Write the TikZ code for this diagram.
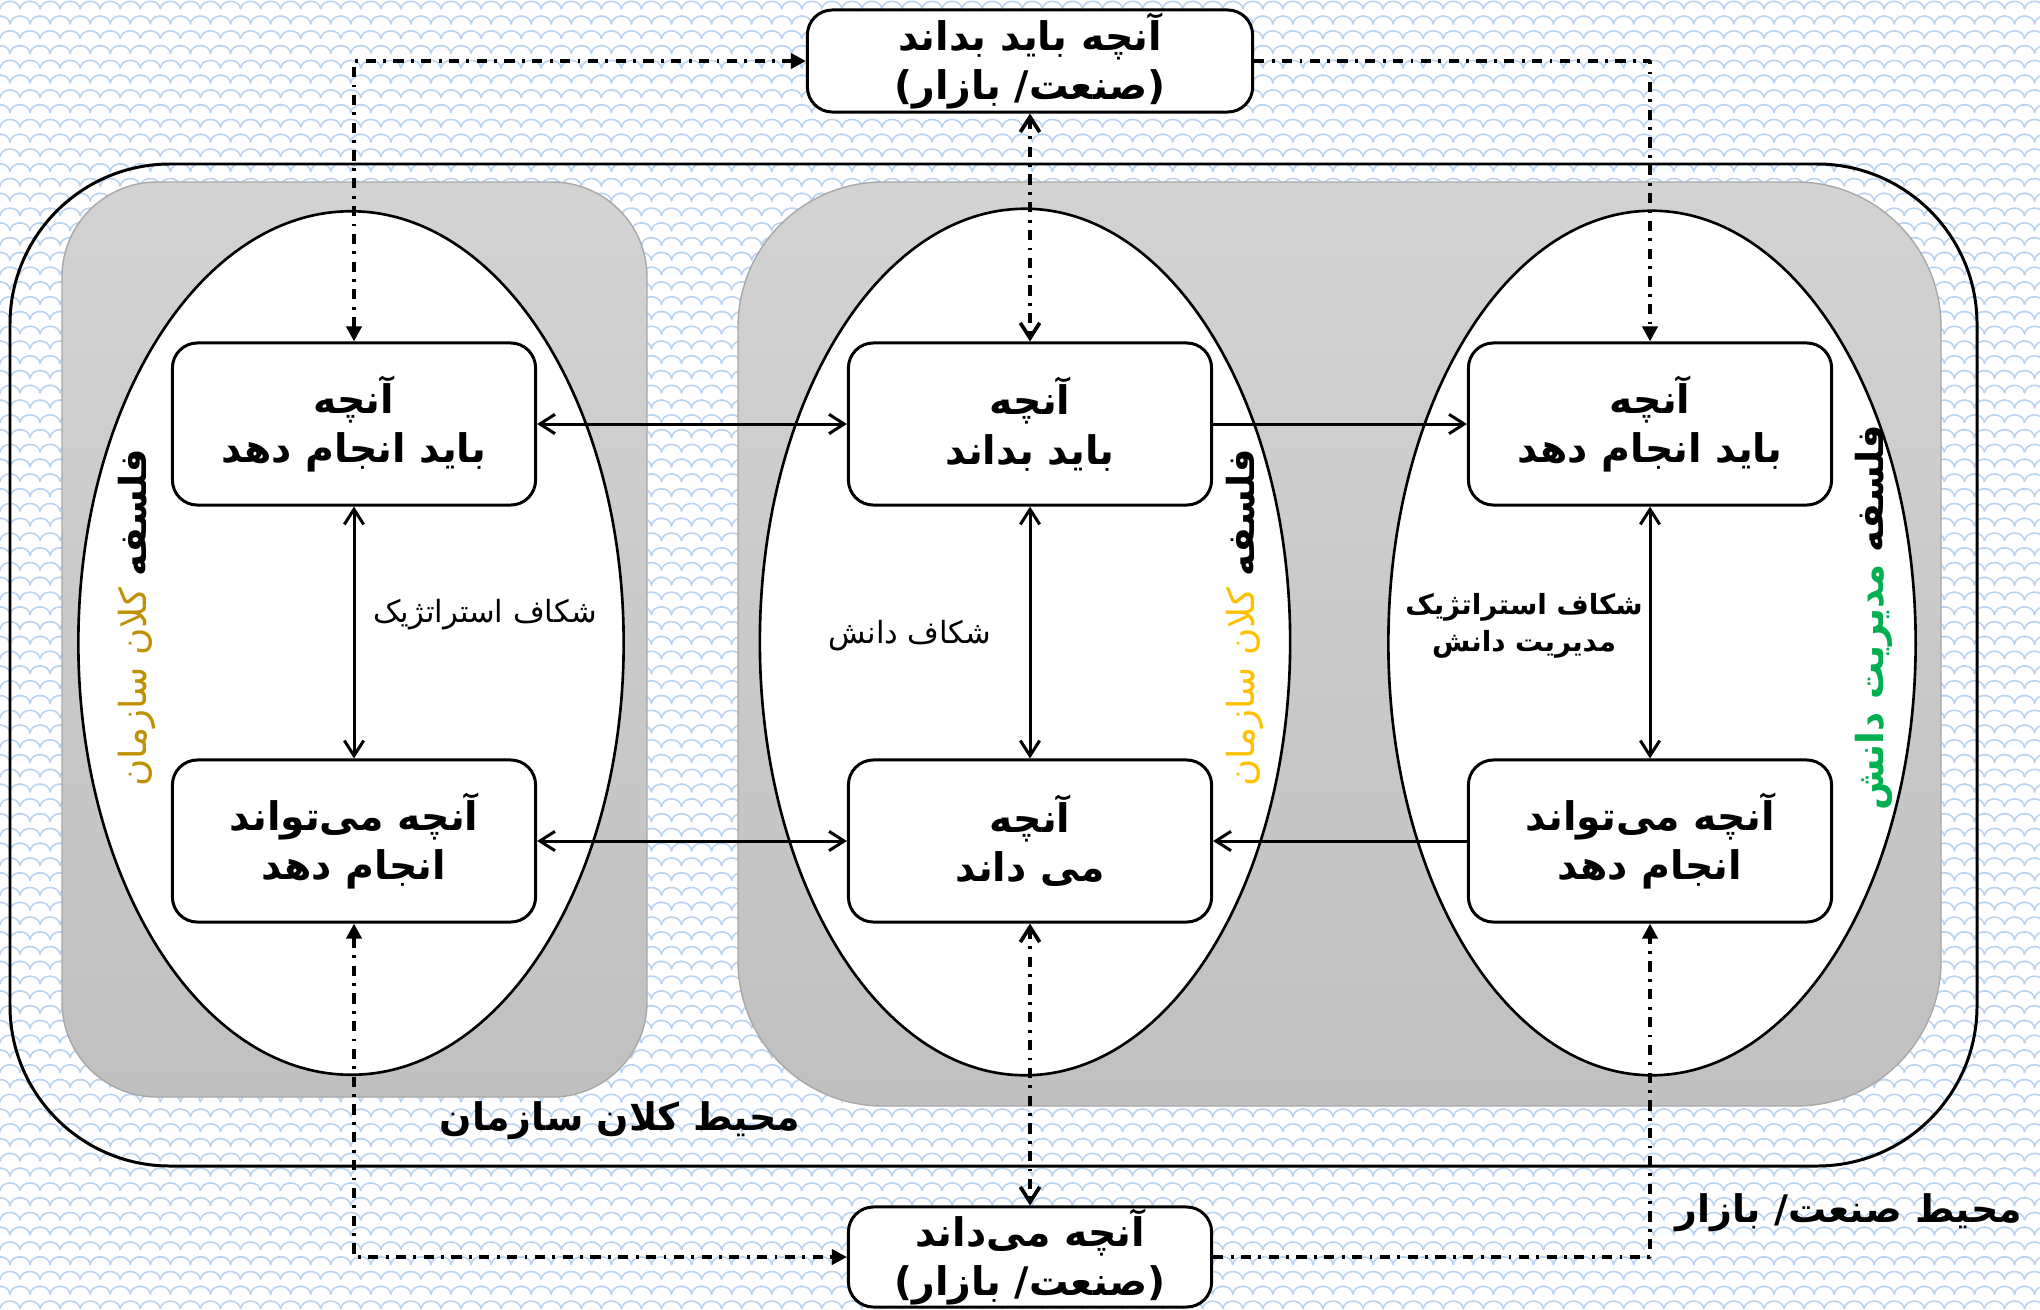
\documentclass[tikz,border=0pt]{standalone}
\usepackage{fontspec}
\usepackage{tikz}
\usetikzlibrary{arrows.meta,shapes.geometric,patterns}
\usepackage{xcolor}
\newfontfamily\farsi[Script=Arabic]{DejaVu Sans}
\TeXXeTstate=1
\newcommand{\fatxt}[1]{\beginR#1\endR}
\definecolor{scalecol}{RGB}{186,212,240}
\definecolor{graytop}{RGB}{211,211,211}
\definecolor{graybot}{RGB}{192,192,192}
\definecolor{grayline}{RGB}{168,168,168}
\definecolor{goldorg}{RGB}{191,144,0}
\definecolor{yelorg}{RGB}{255,192,0}
\definecolor{greenkm}{RGB}{0,176,80}
\pgfdeclarepatternformonly{fishscale}{\pgfqpoint{-0.5pt}{-0.5pt}}{\pgfqpoint{6.2pt}{8.9pt}}{\pgfqpoint{5.7pt}{8.4pt}}{%
  \pgfsetlinewidth{0.45pt}%
  \pgfpathmoveto{\pgfqpoint{0pt}{0pt}}%
  \pgfpathcurveto{\pgfqpoint{0.3pt}{3pt}}{\pgfqpoint{5.4pt}{3pt}}{\pgfqpoint{5.7pt}{0pt}}%
  \pgfpathmoveto{\pgfqpoint{-2.85pt}{4.2pt}}%
  \pgfpathcurveto{\pgfqpoint{-2.55pt}{7.2pt}}{\pgfqpoint{2.55pt}{7.2pt}}{\pgfqpoint{2.85pt}{4.2pt}}%
  \pgfpathcurveto{\pgfqpoint{3.15pt}{7.2pt}}{\pgfqpoint{8.25pt}{7.2pt}}{\pgfqpoint{8.55pt}{4.2pt}}%
  \pgfusepath{stroke}}

\begin{document}
\begin{tikzpicture}[x=0.01cm,y=-0.01cm,line join=round,
  >={Straight Barb[length=4.3pt,width=5.5pt]},
  box/.style={draw,fill=white,rounded corners=0.25cm,line width=0.85pt,
    minimum width=3.63cm,minimum height=1.62cm,inner sep=0pt,align=center,
    font=\farsi\bfseries\fontsize{11.2}{14}\selectfont},
  elp/.style={ellipse,draw,fill=white,line width=0.75pt,inner sep=0pt},
  graybox/.style={top color=graytop,bottom color=graybot,draw=grayline,line width=0.4pt},
  philo/.style={rotate=90,font=\farsi\fontsize{10.6}{13}\selectfont},
  gap/.style={align=center,font=\farsi\fontsize{8.7}{11.5}\selectfont},
  envlbl/.style={font=\farsi\bfseries\fontsize{10.8}{13}\selectfont},
  solidarr/.style={line width=0.85pt},
  dd/.style={line width=1.05pt,dash pattern=on 2.9pt off 2.1pt on 0.8pt off 2.1pt},
  ddfill/.style={dd,>={Triangle[length=4.3pt,width=4.3pt]}}]
% background
\fill[white] (0,0) rectangle (2040,1309);
\fill[pattern=fishscale,pattern color=scalecol] (0,0) rectangle (2040,1309);
\useasboundingbox (0,0) rectangle (2040,1309);
% environments
\draw[line width=0.85pt,rounded corners=1.6cm] (10,164) rectangle (1977,1166);
\shadedraw[graybox,rounded corners=0.95cm] (62,182) rectangle (647,1097);
\shadedraw[graybox,rounded corners=1.45cm] (738,182) rectangle (1941,1106);
% philosophies
\node[elp,minimum width=5.45cm,minimum height=8.63cm] (elpL) at (351,643) {};
\node[elp,minimum width=5.3cm,minimum height=8.66cm] (elpM) at (1025,642) {};
\node[elp,minimum width=5.27cm,minimum height=8.64cm] (elpR) at (1652,643) {};
\node[philo] (philL) at (137,618) {\textcolor{goldorg}{\fatxt{کلان سازمان}}\ \textbf{\fatxt{فلسفه}}};
\node[philo] (philM) at (1245,618) {\textcolor{yelorg}{\fatxt{کلان سازمان}}\ \textbf{\fatxt{فلسفه}}};
\node[philo] (philR) at (1874,618) {\textcolor{greenkm}{\bfseries\fatxt{مدیریت دانش}}\ \textbf{\fatxt{فلسفه}}};
% boxes
\node[box] (ltop) at (354,424) {\fatxt{آنچه}\\\fatxt{باید انجام دهد}};
\node[box] (mtop) at (1030,424) {\fatxt{آنچه}\\\fatxt{باید بداند}};
\node[box] (rtop) at (1650,424) {\fatxt{آنچه}\\\fatxt{باید انجام دهد}};
\node[box] (lbot) at (354,841) {\fatxt{آنچه می‌تواند}\\\fatxt{انجام دهد}};
\node[box] (mbot) at (1030,841) {\fatxt{آنچه}\\\fatxt{می داند}};
\node[box] (rbot) at (1650,841) {\fatxt{آنچه می‌تواند}\\\fatxt{انجام دهد}};
\node[box,minimum width=4.45cm,minimum height=1.02cm] (mustknow) at (1030,61) {\fatxt{آنچه باید بداند}\\)\fatxt{صنعت/ بازار}(};
\node[box,minimum height=1.0cm] (knows) at (1030,1257) {\fatxt{آنچه می‌داند}\\)\fatxt{صنعت/ بازار}(};
% gaps
\node[gap] (gapL) at (485,615) {\fatxt{شکاف استراتژیک}};
\node[gap] (gapM) at (910,636) {\fatxt{شکاف دانش}};
\node[gap,font=\farsi\bfseries\fontsize{7.9}{10.5}\selectfont] (gapR) at (1524,626) {\fatxt{شکاف استراتژیک}\\\fatxt{مدیریت دانش}};
% environment labels
\node[envlbl] (envorg) at (620,1121) {\fatxt{محیط کلان سازمان}};
\node[envlbl] (envmkt) at (1849,1213) {\fatxt{محیط صنعت/ بازار}};
% solid links
\draw[solidarr,<->] (ltop.east) -- (mtop.west);
\draw[solidarr,->] (mtop.east) -- (rtop.west);
\draw[solidarr,<->] (lbot.east) -- (mbot.west);
\draw[solidarr,->] (rbot.west) -- (mbot.east);
\draw[solidarr,<->] (ltop.south) -- (lbot.north);
\draw[solidarr,<->] (mtop.south) -- (mbot.north);
\draw[solidarr,<->] (rtop.south) -- (rbot.north);
% dash-dot links
\draw[dd,<->] (mustknow.south) -- (mtop.north);
\draw[dd,<->] (mbot.south) -- (knows.north);
\draw[ddfill,<->] (ltop.north) |- (mustknow.west);
\draw[ddfill,->] (mustknow.east) -| (rtop.north);
\draw[ddfill,<->] (lbot.south) |- (knows.west);
\draw[ddfill,->] (knows.east) -| (rbot.south);
\end{tikzpicture}
\end{document}
